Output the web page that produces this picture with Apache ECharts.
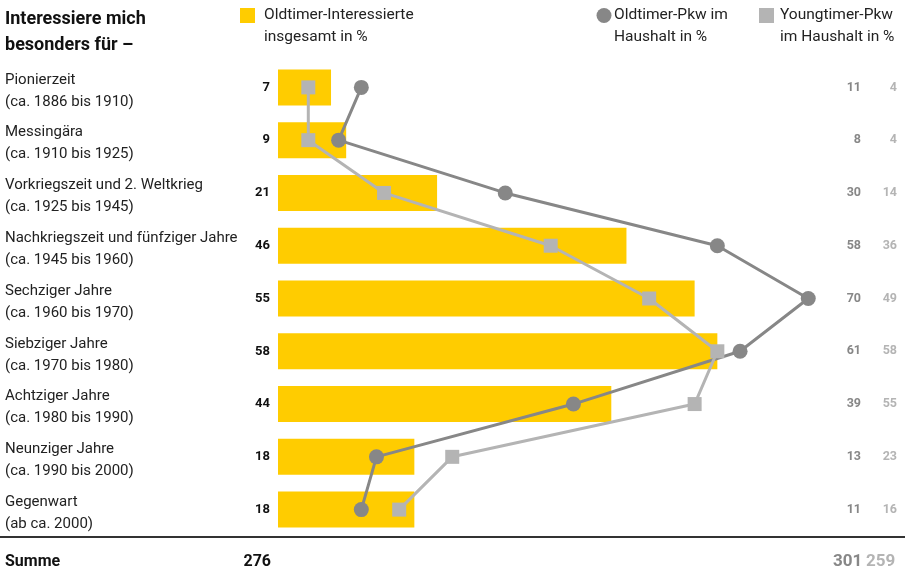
<!DOCTYPE html>
<html><head><meta charset="utf-8">
<script src="https://cdn.jsdelivr.net/npm/echarts@6/dist/echarts.min.js"></script>
<style>html,body{margin:0;padding:0;background:#fff}#c{width:905px;height:569px}</style>
</head><body><div id="c"></div>
<script>
const categories = ["Pionierzeit","Messingära","Vorkriegszeit und 2. Weltkrieg","Nachkriegszeit und fünfziger Jahre","Sechziger Jahre","Siebziger Jahre","Achtziger Jahre","Neunziger Jahre","Gegenwart"];
const periods = ["(ca. 1886 bis 1910)","(ca. 1910 bis 1925)","(ca. 1925 bis 1945)","(ca. 1945 bis 1960)","(ca. 1960 bis 1970)","(ca. 1970 bis 1980)","(ca. 1980 bis 1990)","(ca. 1990 bis 2000)","(ab ca. 2000)"];
const interested = [7,9,21,46,55,58,44,18,18];
const oldtimerPkw = [11,8,30,58,70,61,39,13,11];
const youngtimerPkw = [4,4,14,36,49,58,55,23,16];
const seriesNames = ["Oldtimer-Interessierte insgesamt in %","Oldtimer-Pkw im Haushalt in %","Youngtimer-Pkw im Haushalt in %"];

const YELLOW = '#FFCC00', DARK = '#878787', LIGHT = '#B4B4B4';
const FONT = 'Roboto, "Noto Sans", sans-serif';
const sum = a => a.reduce((s, v) => s + v, 0);

const chart = echarts.init(document.getElementById('c'));

chart.setOption({
  animation: false,
  textStyle: { fontFamily: FONT },
  grid: { left: 278, right: 21, top: 61, bottom: 33 },
  xAxis: { type: 'value', min: 0, max: 80, show: false },
  yAxis: [
    { type: 'category', data: categories, inverse: true,
      axisLine: { show: false }, axisTick: { show: false }, splitLine: { show: false },
      axisLabel: { align: 'left', margin: 273, fontSize: 15, color: '#222', fontFamily: FONT,
        formatter: (v, i) => '{a|' + v + '}\n{b|' + periods[i] + '}',
        rich: {
          a: { fontSize: 15, lineHeight: 29, color: '#222', fontFamily: FONT },
          b: { fontSize: 15, lineHeight: 15, color: '#222', fontFamily: FONT }
        } } },
    { type: 'category', data: categories, inverse: true, position: 'right',
      axisLine: { show: false }, axisTick: { show: false },
      axisLabel: { align: 'right', margin: -23, fontSize: 12.5, fontWeight: 'bold', color: DARK, fontFamily: FONT,
        formatter: (v, i) => String(oldtimerPkw[i]) } },
    { type: 'category', data: categories, inverse: true, position: 'right',
      axisLine: { show: false }, axisTick: { show: false },
      axisLabel: { align: 'right', margin: 13, fontSize: 12.5, fontWeight: 'bold', color: LIGHT, fontFamily: FONT,
        formatter: (v, i) => String(youngtimerPkw[i]) } }
  ],
  series: [
    { name: seriesNames[0], type: 'bar', data: interested, barWidth: 36, itemStyle: { color: YELLOW },
      label: { show: true, position: 'left', distance: 8, fontSize: 13, fontWeight: 'bold', color: '#111', fontFamily: FONT } },
    { name: seriesNames[1], type: 'line', data: oldtimerPkw, symbol: 'circle', symbolSize: 15,
      lineStyle: { color: DARK, width: 3 }, itemStyle: { color: DARK }, z: 3 },
    { name: seriesNames[2], type: 'line', data: youngtimerPkw, symbol: 'rect', symbolSize: 14,
      lineStyle: { color: LIGHT, width: 3 }, itemStyle: { color: LIGHT }, z: 4 }
  ],
  graphic: [
    { type: 'text', left: 5, top: 6, style: { text: 'Interessiere mich\nbesonders für –', font: 'bold 18px ' + FONT, lineHeight: 26, fill: '#111' } },
    { type: 'rect', shape: { x: 240, y: 8, width: 15, height: 15 }, style: { fill: YELLOW } },
    { type: 'text', left: 264, top: 4, style: { text: 'Oldtimer-Interessierte\ninsgesamt in %', font: '15.5px ' + FONT, lineHeight: 22, fill: '#222' } },
    { type: 'circle', shape: { cx: 604, cy: 15.5, r: 7.5 }, style: { fill: DARK } },
    { type: 'text', left: 614, top: 4, style: { text: 'Oldtimer-Pkw im\nHaushalt in %', font: '15.5px ' + FONT, lineHeight: 22, fill: '#222' } },
    { type: 'rect', shape: { x: 759, y: 8, width: 15, height: 15 }, style: { fill: LIGHT } },
    { type: 'text', left: 780, top: 4, style: { text: 'Youngtimer-Pkw\nim Haushalt in %', font: '15.5px ' + FONT, lineHeight: 22, fill: '#222' } },
    { type: 'line', shape: { x1: 0, y1: 537, x2: 905, y2: 537 }, style: { stroke: '#333', lineWidth: 2 } },
    { type: 'text', left: 5, top: 554, style: { text: 'Summe', font: 'bold 16px ' + FONT, fill: '#111' } },
    { type: 'text', right: 905 - 271, top: 554, style: { text: String(sum(interested)), font: 'bold 16px ' + FONT, fill: '#111', align: 'right' } },
    { type: 'text', left: 833, top: 553, style: { text: String(sum(oldtimerPkw)), font: 'bold 17px ' + FONT, fill: DARK } },
    { type: 'text', left: 866, top: 553, style: { text: String(sum(youngtimerPkw)), font: 'bold 17px ' + FONT, fill: LIGHT } }
  ]
});
</script></body></html>
